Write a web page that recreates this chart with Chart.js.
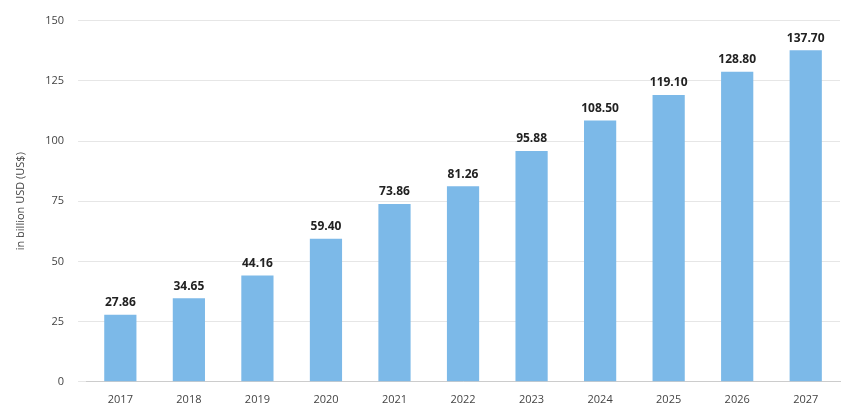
<!DOCTYPE html>
<html><head><meta charset="utf-8">
<script src="https://cdn.jsdelivr.net/npm/chart.js@4/dist/chart.umd.min.js"></script>
<style>html,body{margin:0;background:#fff}#wrap{width:848px;height:415px}</style>
</head><body><div id="wrap"><canvas id="c"></canvas></div>
<script>
const years = ['2017','2018','2019','2020','2021','2022','2023','2024','2025','2026','2027'];
const values = [27.86, 34.65, 44.16, 59.40, 73.86, 81.26, 95.88, 108.50, 119.10, 128.80, 137.70];

const valueLabels = {
  id: 'valueLabels',
  afterDatasetsDraw(chart) {
    const ctx = chart.ctx;
    ctx.save();
    ctx.font = 'bold 12px "Open Sans", sans-serif';
    ctx.fillStyle = '#222';
    ctx.textAlign = 'center';
    ctx.textBaseline = 'bottom';
    chart.getDatasetMeta(0).data.forEach((bar, i) => {
      ctx.fillText(values[i].toFixed(2), bar.x, bar.y - 6);
    });
    ctx.restore();
  }
};

new Chart(document.getElementById('c'), {
  type: 'bar',
  data: { labels: years, datasets: [{ data: values, backgroundColor: '#7cb9e8', barPercentage: 0.47, categoryPercentage: 1 }] },
  options: {
    responsive: true, maintainAspectRatio: false, animation: false,
    layout: { padding: { top: 14, right: 8, left: 10, bottom: 6 } },
    plugins: { legend: { display: false }, tooltip: { enabled: false } },
    scales: {
      x: {
        grid: { display: false },
        border: { color: '#ccc' },
        ticks: { color: '#444', font: { family: 'Open Sans', size: 11 } }
      },
      y: {
        min: 0, max: 150,
        ticks: { stepSize: 25, color: '#444', padding: 14, font: { family: 'Open Sans', size: 11 } },
        grid: { color: '#e6e6e6' },
        border: { display: false },
        title: { display: true, text: 'in billion USD (US$)', color: '#444', font: { family: 'Open Sans', size: 11 } }
      }
    }
  },
  plugins: [valueLabels]
});
</script></body></html>
